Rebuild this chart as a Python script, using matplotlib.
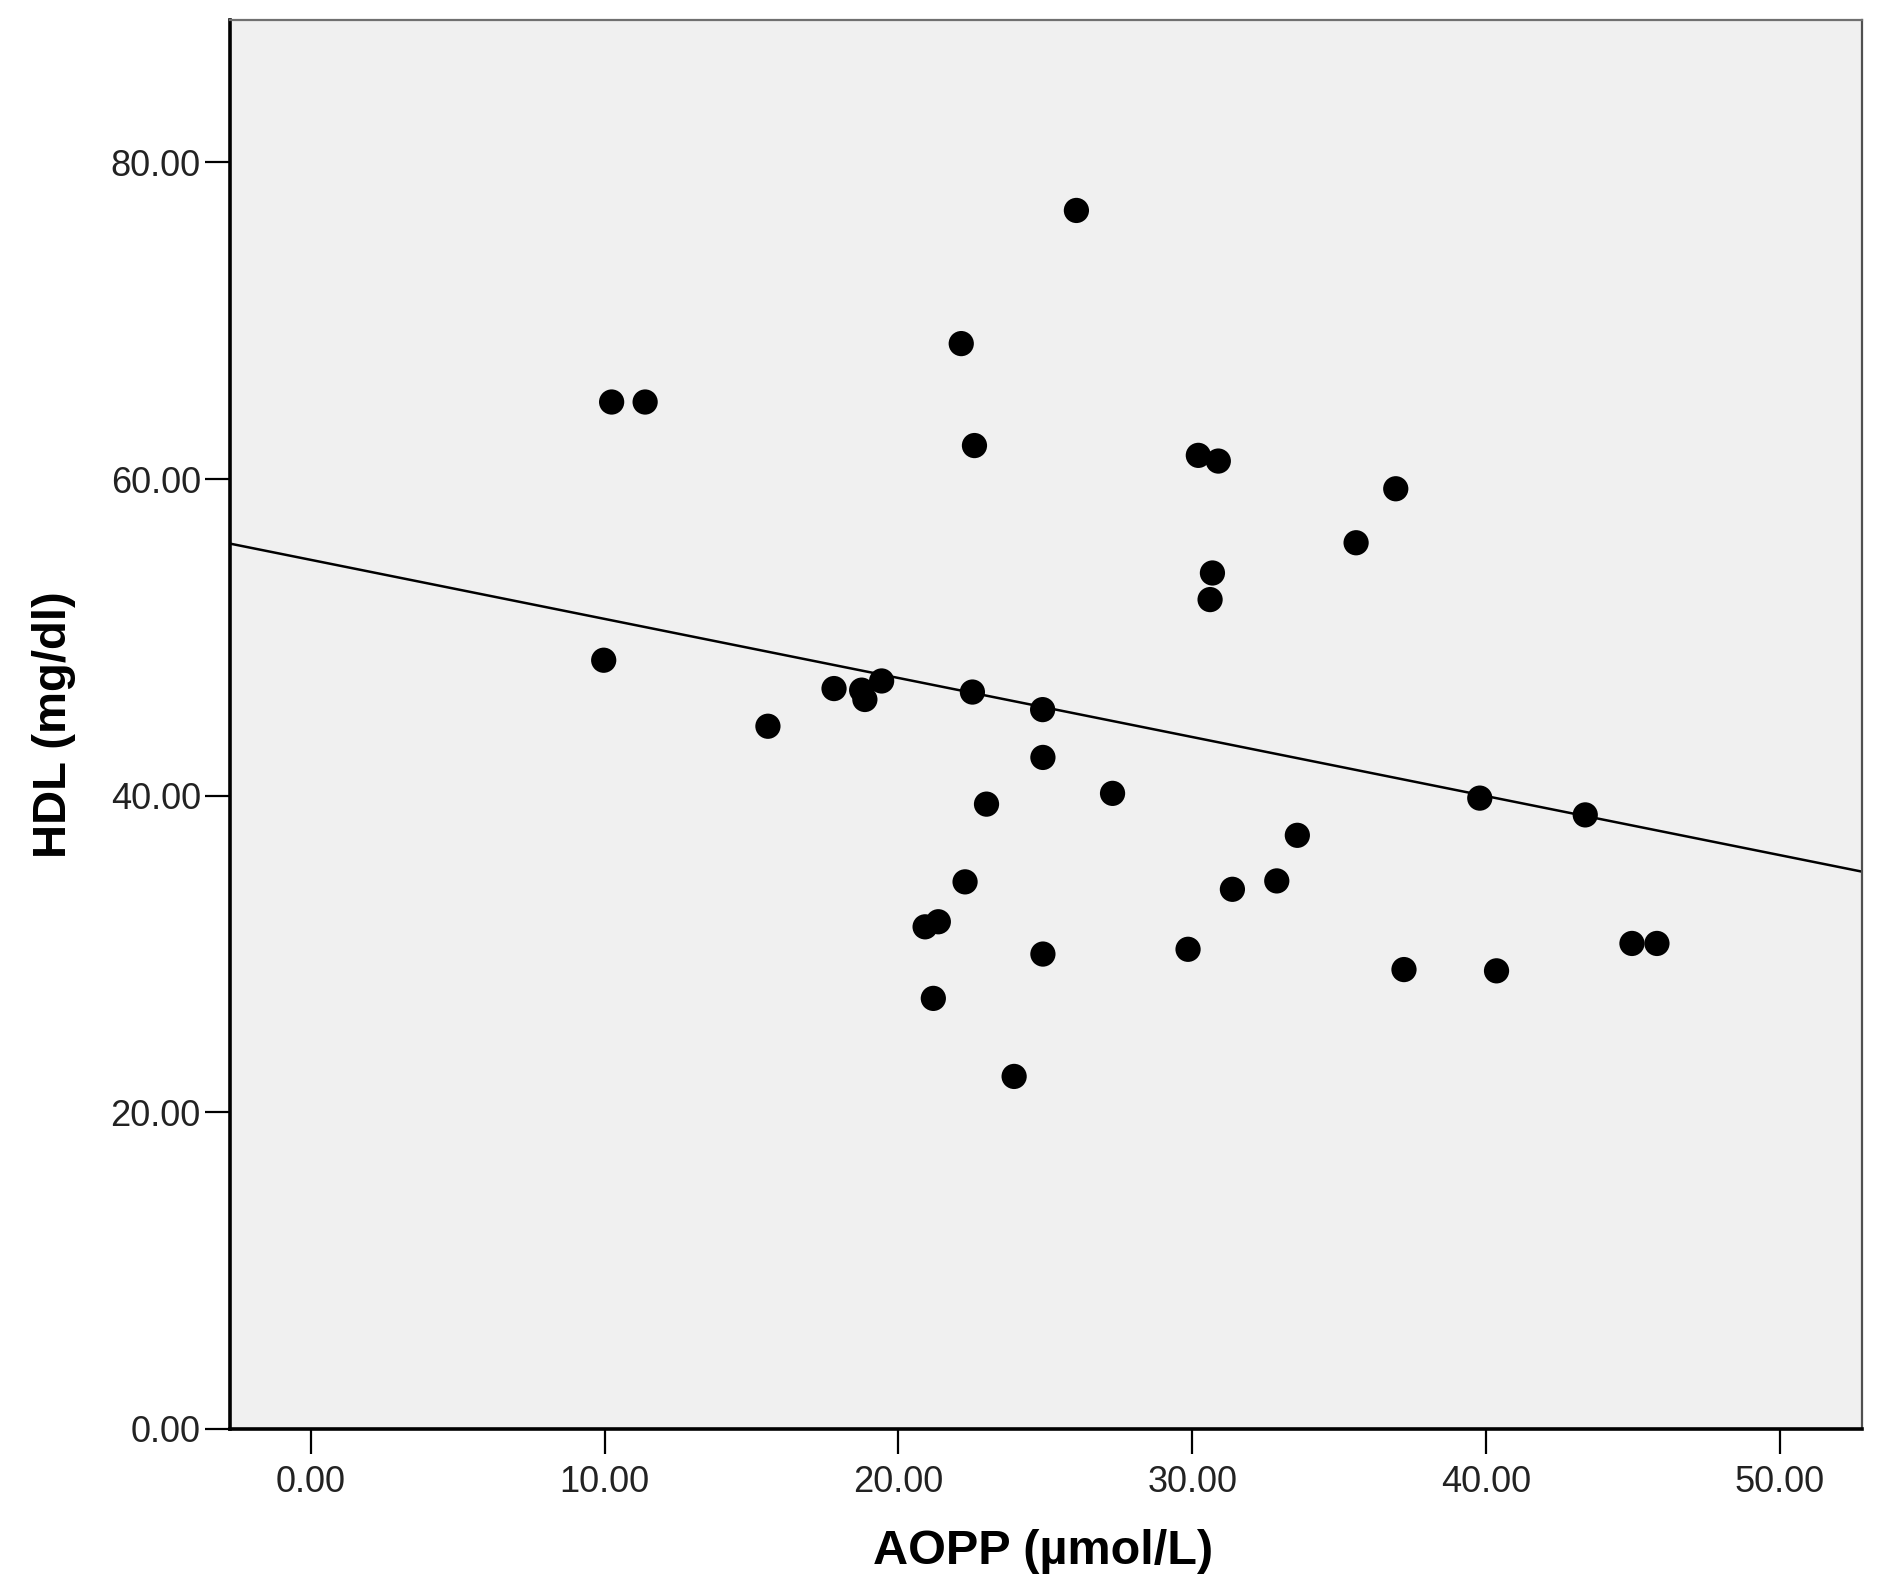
import numpy as np
import matplotlib
matplotlib.use("Agg")
import matplotlib.pyplot as plt

# Data
aopp = [26.06, 22.14, 10.24, 11.38, 22.59, 30.21, 30.89, 36.93, 35.58, 30.69,
        30.61, 9.97, 17.81, 18.75, 18.86, 19.43, 22.52, 24.91, 15.56, 24.92,
        27.29, 23.00, 39.79, 43.38, 33.58, 22.27, 32.88, 31.37, 20.91, 21.36,
        44.97, 45.82, 29.86, 24.92, 37.21, 40.36, 21.19, 23.94]
hdl = [76.97, 68.56, 64.87, 64.87, 62.12, 61.50, 61.14, 59.39, 55.98, 54.07,
       52.39, 48.56, 46.77, 46.67, 46.08, 47.25, 46.55, 45.44, 44.39, 42.42,
       40.15, 39.47, 39.85, 38.79, 37.50, 34.56, 34.62, 34.09, 31.72, 32.04,
       30.67, 30.67, 30.30, 30.00, 29.02, 28.94, 27.20, 22.27]
# Fit line as drawn in the reference
fit_intercept = 54.9
fit_slope = -0.373
x_ticks = [0, 10, 20, 30, 40, 50]
y_ticks = [0, 20, 40, 60, 80]
x_label = "AOPP (µmol/L)"
y_label = "HDL (mg/dl)"

W, H = 1881, 1595
fig = plt.figure(figsize=(W / 100, H / 100), dpi=100)
ax = fig.add_axes([230 / W, 1 - 1429 / H, (1862 - 230) / W, (1429 - 20) / H])
ax.set_facecolor("#f0f0f0")

xa = np.array(aopp)
ya = np.array(hdl)
ax.scatter(xa, ya, s=330, color="black", edgecolors="none", zorder=3)

xlim = (-2.75, 52.8)
xx = np.array(xlim)
ax.plot(xx, fit_intercept + fit_slope * xx, color="black", lw=1.8, zorder=2)

ax.set_xlim(*xlim)
ax.set_ylim(0, 89)
ax.set_xticks(x_ticks)
ax.set_yticks(y_ticks)
ax.set_xticklabels([f"{v:.2f}" for v in x_ticks])
ax.set_yticklabels([f"{v:.2f}" for v in y_ticks])

for lab in ax.get_xticklabels() + ax.get_yticklabels():
    lab.set_fontfamily("Liberation Sans")
    lab.set_fontsize(26)
    lab.set_color("#222222")

ax.tick_params(axis="both", direction="out", length=18, width=1.6, color="black")
ax.tick_params(axis="x", pad=8)
ax.tick_params(axis="y", pad=3)

ax.spines["left"].set_linewidth(2.6)
ax.spines["bottom"].set_linewidth(2.6)
ax.spines["left"].set_color("black")
ax.spines["bottom"].set_color("black")
ax.spines["top"].set_linewidth(1.6)
ax.spines["right"].set_linewidth(1.6)
ax.spines["top"].set_color("#707070")
ax.spines["right"].set_color("#505050")

ax.set_xlabel(x_label, fontfamily="Liberation Sans", fontweight="bold", fontsize=35)
ax.set_ylabel(y_label, fontfamily="Liberation Sans", fontweight="bold", fontsize=34)
ax.xaxis.set_label_coords(0.4985, -0.087)
ax.xaxis.label.set_va("center")
ax.yaxis.set_label_coords(-0.108, 0.5)
ax.yaxis.label.set_va("center")

fig.savefig("out.png", dpi=100, facecolor="white")
